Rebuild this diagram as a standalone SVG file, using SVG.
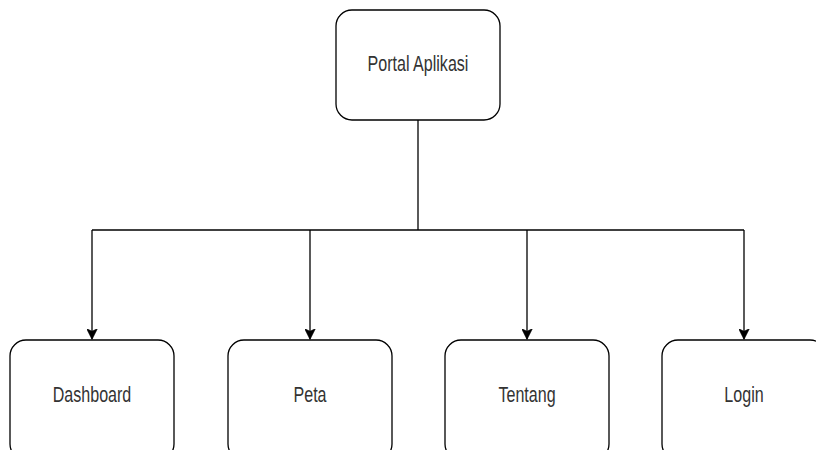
<svg xmlns="http://www.w3.org/2000/svg" width="816" height="450" viewBox="0 0 816 450">
  <defs>
    <style>
      .box { fill: #ffffff; stroke: #000000; stroke-width: 1.3; }
      .lbl { font-family: "Liberation Sans", Arial, sans-serif; font-size: 22px; fill: #333333; text-anchor: middle; }
      .edge { fill: none; stroke: #000000; stroke-width: 1.3; }
    </style>
    <marker id="arrow" viewBox="0 0 10 10" refX="9.5" refY="5" markerWidth="11" markerHeight="11" markerUnits="userSpaceOnUse" orient="auto">
      <path d="M0,0 L10,5 L0,10 L2.5,5 Z" fill="#000000" stroke="#000000" stroke-width="0.5"/>
    </marker>
  </defs>
  <rect width="816" height="450" fill="#ffffff"/>

  <g id="connectors">
    <path class="edge" d="M418,120 V230"/>
    <path class="edge" d="M92,230 H744"/>
    <path class="edge" d="M92,230 V339" marker-end="url(#arrow)"/>
    <path class="edge" d="M310,230 V339" marker-end="url(#arrow)"/>
    <path class="edge" d="M527,230 V339" marker-end="url(#arrow)"/>
    <path class="edge" d="M744,230 V339" marker-end="url(#arrow)"/>
  </g>

  <g id="portal">
    <rect class="box" x="336" y="10" width="164" height="110" rx="16" ry="16"/>
    <text class="lbl" transform="translate(418,71) scale(0.73,1)">Portal Aplikasi</text>
  </g>
  <g id="dashboard">
    <rect class="box" x="10" y="340" width="164" height="120" rx="16" ry="16"/>
    <text class="lbl" transform="translate(92,402) scale(0.73,1)">Dashboard</text>
  </g>
  <g id="peta">
    <rect class="box" x="228" y="340" width="164" height="120" rx="16" ry="16"/>
    <text class="lbl" transform="translate(310,402) scale(0.73,1)">Peta</text>
  </g>
  <g id="tentang">
    <rect class="box" x="445" y="340" width="164" height="120" rx="16" ry="16"/>
    <text class="lbl" transform="translate(527,402) scale(0.73,1)">Tentang</text>
  </g>
  <g id="login">
    <rect class="box" x="662" y="340" width="164" height="120" rx="16" ry="16"/>
    <text class="lbl" transform="translate(744,402) scale(0.73,1)">Login</text>
  </g>
</svg>
